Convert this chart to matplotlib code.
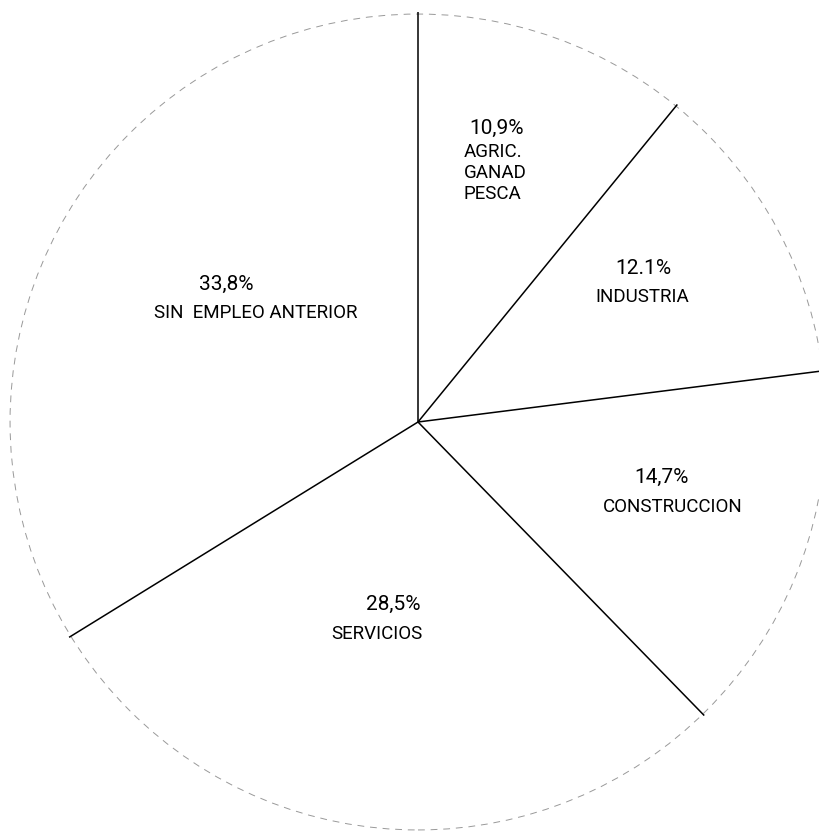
import numpy as np
import matplotlib
matplotlib.use("Agg")
import matplotlib.pyplot as plt

# Data
categories = ["AGRIC.\nGANAD\nPESCA", "INDUSTRIA", "CONSTRUCCION", "SERVICIOS", "SIN  EMPLEO ANTERIOR"]
pct_labels = ["10,9%", "12.1%", "14,7%", "28,5%", "33,8%"]
values = [10.9, 12.1, 14.7, 28.5, 33.8]

# Layout (pixel positions of labels in the 820x832 image)
CX, CY, R = 418, 422, 410
pct_pos = [(497, 128), (643, 268), (662, 477), (393, 604), (226, 284)]
cat_pos = [(464, 173), (642, 297), (673, 507), (377, 634), (256, 313)]
cat_ha = ["left", "center", "center", "center", "center"]

fig = plt.figure(figsize=(8.2, 8.32), dpi=100)
ax = fig.add_axes([0, 0, 1, 1])

wedges, _ = ax.pie(values, startangle=90, counterclock=False, radius=1.0,
                   colors=["white"] * len(values),
                   wedgeprops=dict(linewidth=0))
ax.set_xlim(-CX / R, (820 - CX) / R)
ax.set_ylim((CY - 832) / R, CY / R)
ax.set_aspect("equal")
ax.axis("off")

# faint circular outline
outline = plt.Circle((0, 0), 0.995, fill=False, edgecolor="#999999",
                     linewidth=0.7, linestyle=(0, (7, 6)))
ax.add_patch(outline)

# radial boundary lines from wedge angles
for w in wedges:
    th = np.deg2rad(w.theta2)
    ax.plot([0, np.cos(th)], [0, np.sin(th)], color="black", linewidth=1.1,
            solid_capstyle="butt")

def to_data(p):
    return (p[0] - CX) / R, (CY - p[1]) / R

fam = ["Roboto", "DejaVu Sans"]
for i in range(len(values)):
    x, y = to_data(pct_pos[i])
    ax.text(x, y, pct_labels[i], ha="center", va="center", fontsize=15,
            color="black", family=fam)
    x, y = to_data(cat_pos[i])
    ax.text(x, y, categories[i], ha=cat_ha[i], va="center", fontsize=13.5,
            color="black", family=fam, linespacing=1.2)

fig.savefig("out.png", dpi=100, facecolor="white")
